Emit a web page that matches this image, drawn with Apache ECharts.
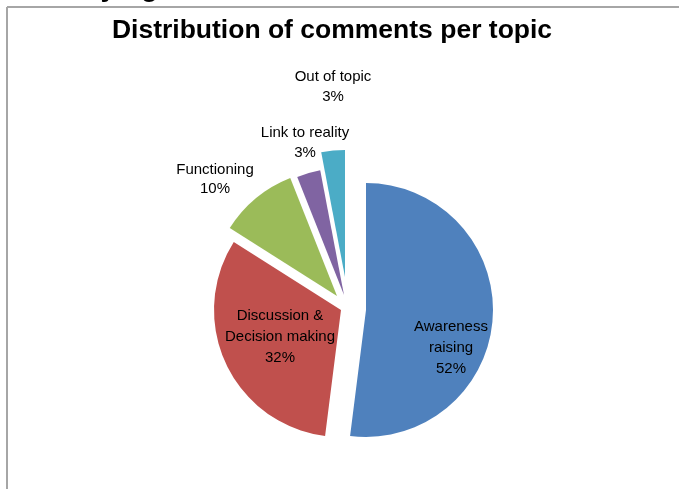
<!DOCTYPE html>
<html>
<head>
<meta charset="utf-8">
<script src="https://cdn.jsdelivr.net/npm/echarts@6/dist/echarts.min.js"></script>
<style>
html,body{margin:0;padding:0;background:#fff;}
#chart{width:679px;height:489px;}
</style>
</head>
<body>
<div id="chart"></div>
<script>
// Data
const categories = ['Awareness\nraising', 'Discussion &\nDecision making', 'Functioning', 'Link to reality', 'Out of topic'];
const values = [52, 32, 10, 3, 3];
const colors = ['#4F81BD', '#C0504D', '#9BBB59', '#8064A2', '#4BACC6'];
const titleText = 'Distribution of comments per topic';

// Per-slice layout (exploded centres & label positions)
const sliceCenters = [[366, 310], [341, 310], [337, 296], [344, 295], [345, 277]];
const labelPos = [[451, 348], [280, 337], [215, 179], [305, 143], [333, 87]];
const labelLH = [21, 21, 19, 20, 20];

const chart = echarts.init(document.getElementById('chart'), null, {renderer: 'canvas'});

const series = categories.map((_, idx) => ({
  type: 'pie',
  center: sliceCenters[idx],
  radius: 127,
  startAngle: 90,
  clockwise: true,
  avoidLabelOverlap: false,
  silent: true,
  emphasis: {disabled: true},
  animation: false,
  labelLine: {show: false},
  labelLayout: function () {
    return {x: labelPos[idx][0], y: labelPos[idx][1], align: 'center', verticalAlign: 'middle'};
  },
  data: categories.map((name, j) => ({
    name: name,
    value: values[j],
    itemStyle: {color: j === idx ? colors[j] : 'rgba(0,0,0,0)'},
    label: {
      show: j === idx,
      position: idx < 2 ? 'inside' : 'outside',
      formatter: '{b}\n{c}%',
      color: '#000',
      fontFamily: 'Liberation Sans',
      fontSize: 15,
      lineHeight: labelLH[idx],
      align: 'center'
    }
  }))
}));

chart.setOption({
  backgroundColor: '#fff',
  animation: false,
  title: {
    text: titleText,
    left: 327,
    textAlign: 'center',
    top: 12,
    textStyle: {fontFamily: 'Liberation Sans', fontWeight: 'bold', fontSize: 26.5, color: '#000'}
  },
  graphic: [
    {type: 'line', shape: {x1: 7, y1: 7, x2: 679, y2: 7}, style: {stroke: '#a6a6a6', lineWidth: 2}},
    {type: 'line', shape: {x1: 7, y1: 7, x2: 7, y2: 489}, style: {stroke: '#a6a6a6', lineWidth: 2}},
    {type: 'text', x: 158, y: 2, style: {text: 'Classifying', fontFamily: 'Liberation Sans', fontWeight: 'bold', fontSize: 28, fill: '#000', align: 'right', verticalAlign: 'bottom'}}
  ],
  series: series
});
</script>
</body>
</html>
